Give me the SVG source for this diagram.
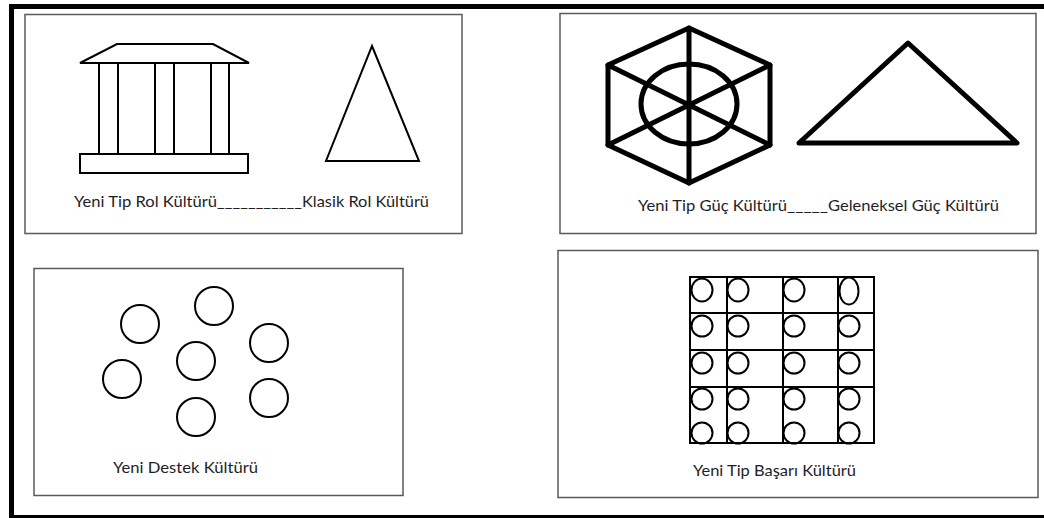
<svg xmlns="http://www.w3.org/2000/svg" width="1044" height="518" viewBox="0 0 1044 518">
<style>
.panel{fill:#fff;stroke:#5a5a5a;stroke-width:1.5}
.thin{fill:none;stroke:#000;stroke-width:2}
.thick{fill:none;stroke:#000;stroke-width:5;stroke-linejoin:round;stroke-linecap:round}
.lbl{font-family:Lato,"Liberation Sans",sans-serif;font-size:15px;fill:#1e1e28}
</style>
<rect x="0" y="0" width="1044" height="518" fill="#fff"/>
<rect x="11.5" y="6.5" width="1040" height="511" fill="none" stroke="#000" stroke-width="5"/>

<g id="rol">
<rect class="panel" x="25" y="14.5" width="437" height="219"/>
<path class="thin" d="M117,44 L213,44 L249,63 L80,63 Z"/>
<path class="thin" d="M99,63V154 M118,63V154 M155,63V154 M174,63V154 M211,63V154 M229,63V154"/>
<rect class="thin" x="80" y="154" width="168" height="19"/>
<path class="thin" d="M372,46 L419,161 L326,161 Z" stroke-linejoin="miter"/>
<text class="lbl" y="207"><tspan x="74" textLength="143" lengthAdjust="spacingAndGlyphs">Yeni Tip Rol Kültürü</tspan><tspan x="217" textLength="85" lengthAdjust="spacingAndGlyphs">___________</tspan><tspan x="302" textLength="127" lengthAdjust="spacingAndGlyphs">Klasik Rol Kültürü</tspan></text>
</g>

<g id="guc">
<rect class="panel" x="560" y="13.5" width="476" height="220"/>
<path class="thick" d="M689,28 L770,65 L770,145 L689,183 L608,145 L608,65 Z"/>
<path class="thick" d="M689,28V183 M608,65L770,145 M608,145L770,65"/>
<ellipse class="thick" cx="689" cy="104" rx="48" ry="40"/>
<path class="thick" d="M908,43 L1017,143 L799,143 Z"/>
<text class="lbl" y="211"><tspan x="638" textLength="149" lengthAdjust="spacingAndGlyphs">Yeni Tip Güç Kültürü</tspan><tspan x="787" textLength="41" lengthAdjust="spacingAndGlyphs">_____</tspan><tspan x="828" textLength="171" lengthAdjust="spacingAndGlyphs">Geleneksel Güç Kültürü</tspan></text>
</g>

<g id="destek">
<rect class="panel" x="34" y="268.5" width="369" height="227"/>
<circle class="thin" cx="140" cy="324" r="19"/>
<circle class="thin" cx="214" cy="306" r="19"/>
<circle class="thin" cx="269" cy="343" r="19"/>
<circle class="thin" cx="196" cy="361" r="19"/>
<circle class="thin" cx="122" cy="379" r="19"/>
<circle class="thin" cx="269" cy="398" r="19"/>
<circle class="thin" cx="196" cy="417" r="19"/>
<text class="lbl" x="113" y="473" textLength="145" lengthAdjust="spacingAndGlyphs">Yeni Destek Kültürü</text>
</g>

<g id="basari">
<rect class="panel" x="558" y="250.5" width="480" height="247"/>
<rect class="thin" x="690" y="277" width="184" height="166"/>
<path class="thin" d="M690,313H874 M690,350H874 M690,387H874 M727,277V443 M783,277V443 M838,277V443"/>
<g class="thin">
<ellipse cx="702" cy="290" rx="10.5" ry="11.5"/>
<ellipse cx="738" cy="290" rx="10.5" ry="11.5"/>
<ellipse cx="794" cy="290" rx="10.5" ry="11.5"/>
<ellipse cx="849" cy="291" rx="9.5" ry="13.5"/>
<ellipse cx="702" cy="326" rx="10.5" ry="10.5"/>
<ellipse cx="738" cy="326" rx="10.5" ry="10.5"/>
<ellipse cx="794" cy="326" rx="10.5" ry="10.5"/>
<ellipse cx="849" cy="326" rx="10.5" ry="10.5"/>
<ellipse cx="702" cy="363" rx="10.5" ry="10.5"/>
<ellipse cx="738" cy="363" rx="10.5" ry="10.5"/>
<ellipse cx="794" cy="363" rx="10.5" ry="10.5"/>
<ellipse cx="849" cy="363" rx="10.5" ry="10.5"/>
<ellipse cx="702" cy="399" rx="10.5" ry="10.5"/>
<ellipse cx="738" cy="399" rx="10.5" ry="10.5"/>
<ellipse cx="794" cy="399" rx="10.5" ry="10.5"/>
<ellipse cx="849" cy="399" rx="10.5" ry="10.5"/>
<ellipse cx="702" cy="433" rx="10.5" ry="10.5"/>
<ellipse cx="738" cy="433" rx="10.5" ry="10.5"/>
<ellipse cx="794" cy="433" rx="10.5" ry="10.5"/>
<ellipse cx="849" cy="433" rx="10.5" ry="10.5"/>
</g>
<text class="lbl" x="693" y="476" textLength="163" lengthAdjust="spacingAndGlyphs">Yeni Tip Başarı Kültürü</text>
</g>
</svg>
